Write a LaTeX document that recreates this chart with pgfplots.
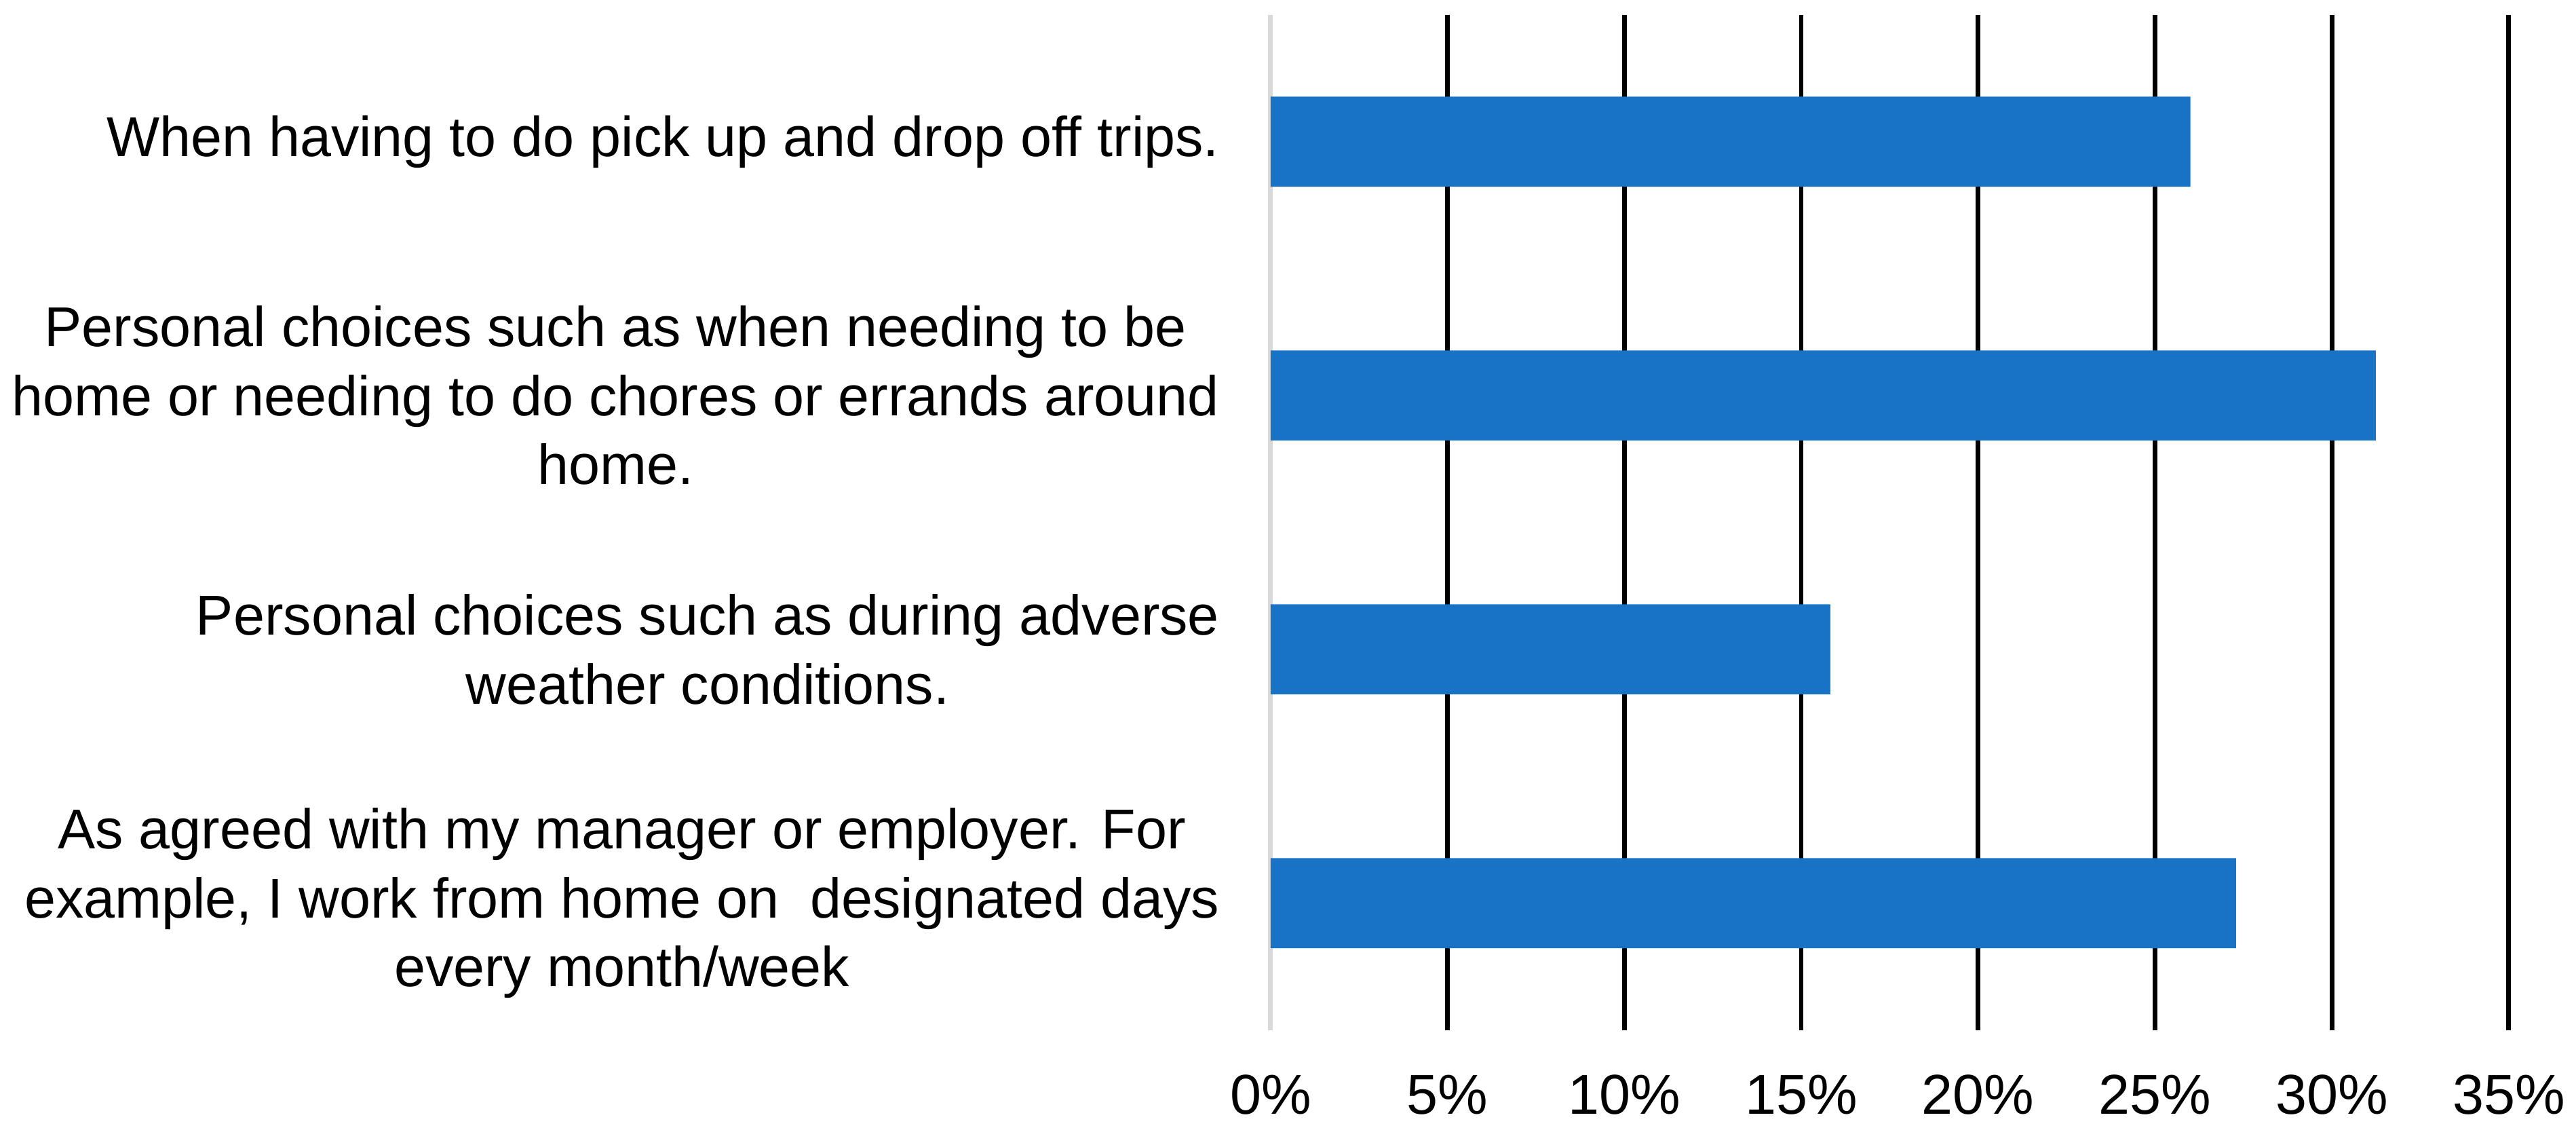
\documentclass[border=0pt]{standalone}
\usepackage{pgfplots}
\pgfplotsset{compat=1.18}
\usepackage{fontspec}
\setmainfont{Liberation Sans}
\definecolor{barblue}{RGB}{24,115,199}
\definecolor{zeroline}{RGB}{217,217,217}
\begin{document}
\begin{tikzpicture}[font=\fontsize{9.85}{12.1}\selectfont]
\begin{axis}[
    xbar,
    scale only axis,
    width=217.3pt,
    height=178.1pt,
    xmin=0, xmax=35,
    ymin=-0.5, ymax=3.5,
    y dir=reverse,
    xtick={5,10,...,35},
    extra x ticks={0},
    extra x tick style={major grid style={draw=zeroline, line width=0.83pt}},
    xticklabel={\pgfmathprintnumber{\tick}\%},
    /pgf/number format/assume math mode=true,
    xmajorgrids,
    major grid style={draw=black, line width=0.83pt},
    ytick={0,1,2,3},
    yticklabels={
        {When having to do pick up and drop off trips.},
        {Personal choices such as when needing to be\\home or needing to do chores or errands around\\home.},
        {Personal choices such as during adverse\\weather conditions.},
        {As agreed with my manager or employer. For\\example, I work from home on\ \ designated days\\every month/week}
    },
    yticklabel style={align=center, anchor=east, inner sep=0pt, xshift=-8.8pt},
    xticklabel style={anchor=north, inner sep=0pt, yshift=-7.7pt},
    major tick length=0pt,
    axis line style={draw=none},
    bar width=15.8pt,
]
\addplot[fill=barblue, draw=none] coordinates {(26.0,0) (31.24,1) (15.82,2) (27.29,3)};
\end{axis}
\pgfresetboundingbox
\path[use as bounding box] ([xshift=-223.0pt,yshift=-17.1pt]current axis.south west) rectangle ([xshift=11.8pt,yshift=2.6pt]current axis.north east);
\end{tikzpicture}
\end{document}
